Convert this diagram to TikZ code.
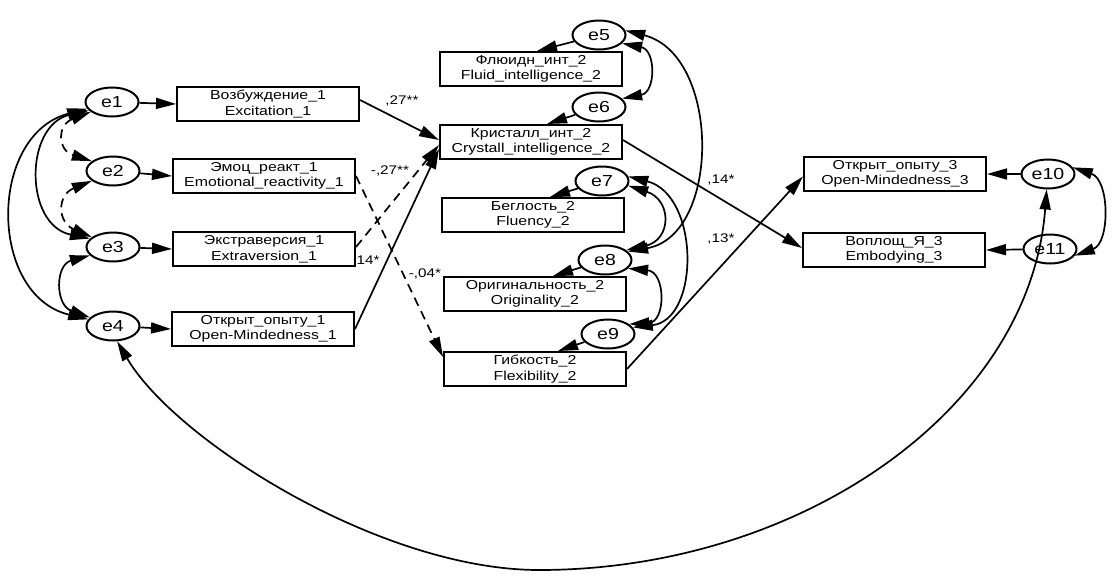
\documentclass[tikz,border=0pt]{standalone}
\usepackage{fontspec}
\setmainfont[FakeStretch=1.22]{Liberation Sans}
\usetikzlibrary{arrows.meta,shapes.geometric}
\begin{document}
\begin{tikzpicture}[x=1pt,y=-1pt,line width=1.7pt,
  >={Triangle[length=20pt,width=11pt]},
  box/.style={draw,line width=2pt,minimum width=182pt,minimum height=34pt,inner sep=0pt,align=center,font=\fontsize{13}{15.5}\selectfont},
  err/.style={draw,ellipse,line width=2pt,minimum width=53pt,minimum height=29pt,inner sep=0pt,font=\fontsize{16}{17}\selectfont},
  lbl/.style={inner sep=0pt,font=\fontsize{12.5}{14}\selectfont},
  reg/.style={->},
  cov/.style={<->},
  dsh/.style={dash pattern=on 9pt off 6pt}]
\fill[white] (0,0) rectangle (1120,584);
\useasboundingbox (0,0) rectangle (1120,584);
% error terms
\node[err] (e1) at (112,102) {e1};
\node[err] (e2) at (113,171) {e2};
\node[err] (e3) at (113,247) {e3};
\node[err] (e4) at (113,326) {e4};
\node[err] (e5) at (599,35) {e5};
\node[err] (e6) at (599,107) {e6};
\node[err] (e7) at (602,181) {e7};
\node[err] (e8) at (605,260) {e8};
\node[err] (e9) at (608,334) {e9};
\node[err] (e10) at (1048,174) {e10};
\node[err] (e11) at (1050,249) {e11};
% boxes
\node[box] (b1) at (268,104) {Возбуждение\_1\\Excitation\_1};
\node[box] (b2) at (264,176) {Эмоц\_реакт\_1\\Emotional\_reactivity\_1};
\node[box] (b3) at (264,249) {Экстраверсия\_1\\Extraversion\_1};
\node[box] (b4) at (263,329) {Открыт\_опыту\_1\\Open-Mindedness\_1};
\node[box] (F) at (531,69) {Флюидн\_инт\_2\\Fluid\_intelligence\_2};
\node[box] (K) at (531,142) {Кристалл\_инт\_2\\Crystall\_intelligence\_2};
\node[box] (B) at (533,215) {Беглость\_2\\Fluency\_2};
\node[box] (O) at (535,294) {Оригинальность\_2\\Originality\_2};
\node[box] (G) at (535,369) {Гибкость\_2\\Flexibility\_2};
\node[box] (O3) at (895,174) {Открыт\_опыту\_3\\Open-Mindedness\_3};
\node[box] (V) at (894,250) {Воплощ\_Я\_3\\Embodying\_3};
% error arrows
\draw[reg] (e1) -- (b1.west);
\draw[reg] (e2) -- (b2.west);
\draw[reg] (e3) -- (b3.west);
\draw[reg] (e4) -- (b4.west);
\draw[reg] (e5) -- ([xshift=6pt]F.north);
\draw[reg] (e6) -- ([xshift=16pt]K.north);
\draw[reg] (e7) -- ([xshift=17pt]B.north);
\draw[reg] (e8) -- ([xshift=18pt]O.north);
\draw[reg] (e9) -- ([xshift=23pt]G.north);
\draw[reg] (e10) -- (O3.east);
\draw[reg] (e11) -- (V.east);
% regression paths
\draw[reg] ([yshift=4pt]b1.east) -- ([yshift=2pt]K.west);
\draw[reg,dsh] (b2.east) -- ([yshift=12pt]G.west);
\draw[reg,dsh] ([yshift=2pt]b3.east) -- ([yshift=-3pt]K.west);
\draw[reg] (b4.east) -- ([yshift=-7pt]K.west);
\draw[reg] ([yshift=2pt]K.east) -- ([yshift=2pt]V.west);
\draw[reg] (G.east) -- ([yshift=-2.5pt]O3.west);
% path labels
\node[lbl] (l1) at (402,101) {,27**};
\node[lbl] (l2) at (390,171) {-,27**};
\node[lbl] (l3) at (368,260) {14*};
\node[lbl] (l4) at (425,274) {-,04*};
\node[lbl] (l5) at (721,180) {,14*};
\node[lbl] (l6) at (721,239) {,13*};
% covariances left
\draw[cov,dsh] (e1.205) .. controls (57,125) and (57,150) .. (e2.155);
\draw[cov,dsh] (e2.205) .. controls (57,195) and (57,222) .. (e3.155);
\draw[cov] (e1.200) .. controls (24,125) and (24,225) .. (e3.160);
\draw[cov] (e1.195) .. controls (-12,135) and (-12,295) .. (e4.165);
\draw[cov] (e3.200) .. controls (55,265) and (55,305) .. (e4.160);
% covariances right
\draw[cov] (e5.340) .. controls (656,50) and (656,92) .. (e6.20);
\draw[cov] (e5.10) .. controls (721,55) and (721,235) .. (e8.20);
\draw[cov] (e7.350) .. controls (672,200) and (672,240) .. (e8.25);
\draw[cov] (e7.10) .. controls (700,195) and (700,320) .. (e9.15);
\draw[cov] (e8.340) .. controls (666,272) and (666,322) .. (e9.25);
\draw[cov] (e10.15) .. controls (1110,180) and (1110,243) .. (e11.345);
% big covariance e4 - e10
\draw[cov] (e4.-75) .. controls (175,440) and (380,570) .. (539,570) .. controls (800,570) and (1030,410) .. (e10.-95);
\end{tikzpicture}
\end{document}
